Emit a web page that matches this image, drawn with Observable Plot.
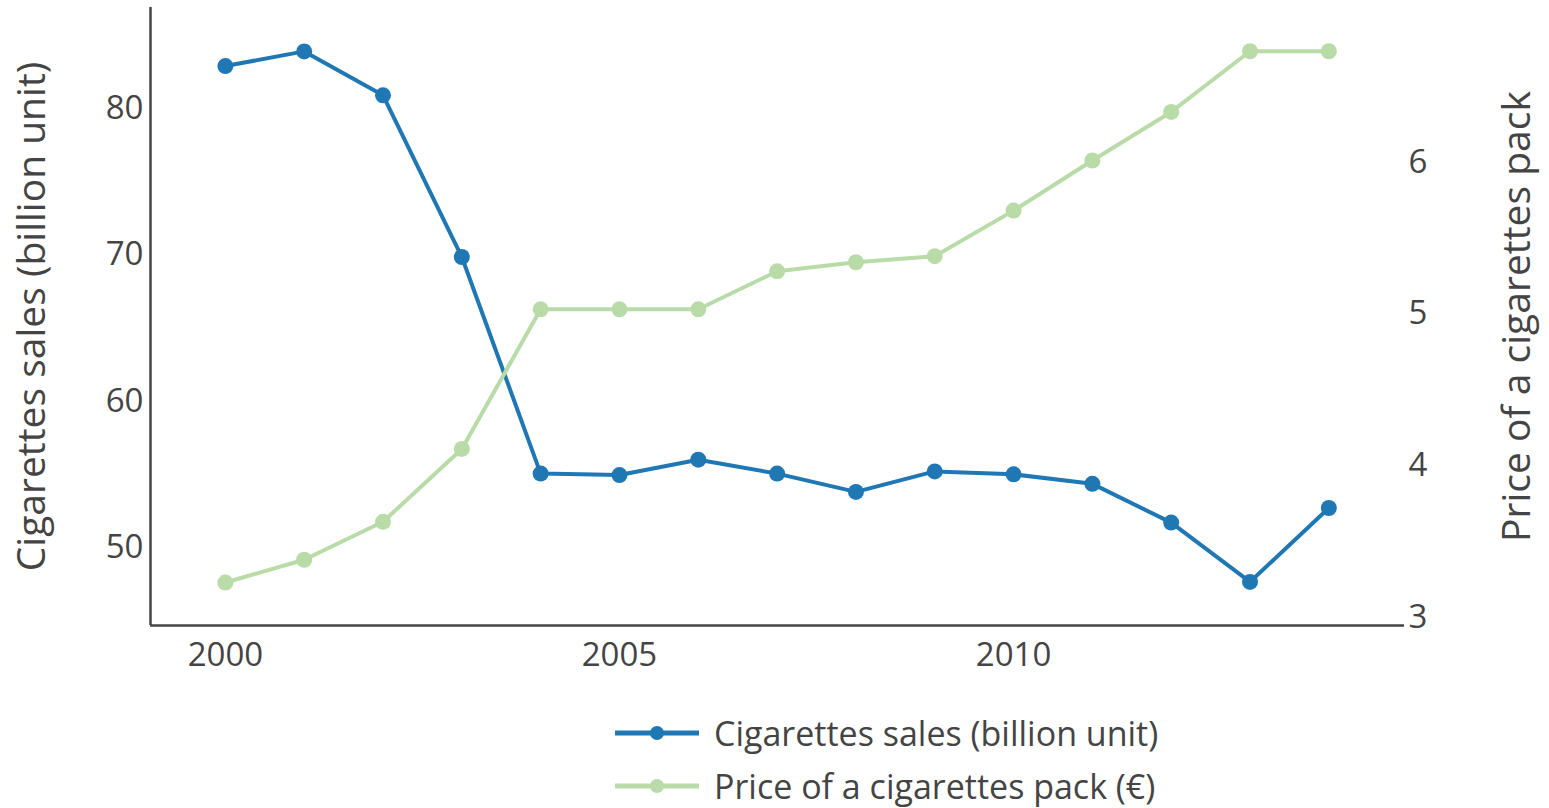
<!DOCTYPE html>
<html><head><meta charset="utf-8">
<script src="https://cdn.jsdelivr.net/npm/d3@7"></script>
<script src="https://cdn.jsdelivr.net/npm/@observablehq/plot@0.6"></script>
<style>
body{margin:0;background:#fff;font-family:"Open Sans",sans-serif;color:#444}
#legend{position:relative;height:108px;width:1549px}
.row{position:absolute;left:615px;height:44px;display:flex;align-items:center;font-size:34px;white-space:nowrap}
.row svg{margin-right:15px}
</style></head><body>
<div id="chart"></div><div id="legend"></div>
<script>
const years = [2000, 2001, 2002, 2003, 2004, 2005, 2006, 2007, 2008, 2009, 2010, 2011, 2012, 2013, 2014];
const sales = [82.9, 83.9, 80.9, 69.85, 55.05, 54.95, 56.0, 55.05, 53.8, 55.2, 55.0, 54.35, 51.7, 47.65, 52.7];
const price = [3.23, 3.38, 3.63, 4.11, 5.03, 5.03, 5.03, 5.28, 5.34, 5.38, 5.68, 6.01, 6.33, 6.73, 6.73];
const xTicks = [2000, 2005, 2010];
const salesTicks = [50, 60, 70, 80];
const priceTicks = [3, 4, 5, 6];
const salesName = "Cigarettes sales (billion unit)";
const priceName = "Price of a cigarettes pack (€)";
const leftTitle = "Cigarettes sales (billion unit)";
const rightTitle = "Price of a cigarettes pack";

const blue = "#1f77b4", green = "#b9dba8", ink = "#444";
const xDomain = [1999.05, 2014.96];
const leftDomain = [44.67, 86.9], rightDomain = [2.947, 7.018];
const toLeft = p => leftDomain[0] + (p - rightDomain[0]) / (rightDomain[1] - rightDomain[0]) * (leftDomain[1] - leftDomain[0]);
const fromLeft = v => rightDomain[0] + (v - leftDomain[0]) / (leftDomain[1] - leftDomain[0]) * (rightDomain[1] - rightDomain[0]);

const salesData = years.map((y, i) => ({year: y, value: sales[i]}));
const priceData = years.map((y, i) => ({year: y, value: toLeft(price[i])}));

const chart = Plot.plot({
  width: 1549, height: 700,
  marginLeft: 150, marginRight: 145, marginTop: 7, marginBottom: 75,
  style: {fontFamily: "'Open Sans', sans-serif", fontSize: "33px", color: ink, background: "white", overflow: "visible"},
  x: {domain: xDomain},
  y: {domain: leftDomain},
  marks: [
    Plot.axisX(xTicks, {tickSize: 0, tickPadding: 17, tickFormat: d => String(d), label: null, fill: ink}),
    Plot.axisY(salesTicks, {anchor: "left", tickSize: 0, tickPadding: 7, label: null, fill: ink}),
    Plot.axisY(priceTicks.map(toLeft), {anchor: "right", tickSize: 0, tickPadding: 4, label: null, fill: ink,
      tickFormat: d => String(Math.round(fromLeft(d)))}),
    Plot.text([leftTitle], {frameAnchor: "left", textAnchor: "middle", lineAnchor: "middle", rotate: -90, dx: -118, fontSize: 39, fill: ink}),
    Plot.text([rightTitle], {frameAnchor: "right", textAnchor: "middle", lineAnchor: "middle", rotate: -90, dx: 113, fontSize: 39, fill: ink}),
    Plot.ruleX([xDomain[0]], {stroke: ink, strokeWidth: 2.5}),
    Plot.ruleY([leftDomain[0]], {stroke: ink, strokeWidth: 2.5}),
    Plot.line(salesData, {x: "year", y: "value", stroke: blue, strokeWidth: 4}),
    Plot.dot(salesData, {x: "year", y: "value", r: 8, fill: blue}),
    Plot.line(priceData, {x: "year", y: "value", stroke: green, strokeWidth: 4}),
    Plot.dot(priceData, {x: "year", y: "value", r: 8, fill: green})
  ]
});
document.getElementById("chart").appendChild(chart);

const legend = document.getElementById("legend");
[[salesName, blue, 11], [priceName, green, 64]].forEach(([name, color, top]) => {
  const row = document.createElement("div");
  row.className = "row";
  row.style.top = top + "px";
  row.innerHTML = `<svg width="84" height="20"><line x1="0" y1="10" x2="84" y2="10" stroke="${color}" stroke-width="5"/><circle cx="42" cy="10" r="7" fill="${color}"/></svg><span>${name}</span>`;
  legend.appendChild(row);
});
</script></body></html>
